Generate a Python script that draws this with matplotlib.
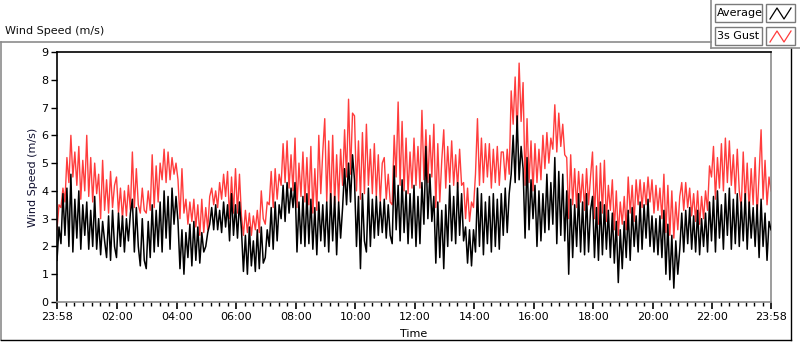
import matplotlib
matplotlib.use("Agg")
import matplotlib.pyplot as plt
import numpy as np
from matplotlib.patches import Rectangle
from matplotlib.lines import Line2D

# ---------------- data (one sample every 4 minutes, from 23:58) ----------------
sample_step_min = 4
average = [
    1.5, 2.7, 2.1, 3.9, 2.4, 4.1, 2.0, 4.6, 1.8, 3.7, 2.3, 4.0, 1.9, 3.5, 2.4,
    3.6, 1.9, 3.3, 2.0, 3.8, 1.9, 3.0, 1.7, 2.9, 2.2, 1.6, 3.1, 1.5, 3.3, 2.0,
    1.6, 3.2, 2.0, 3.1, 1.8, 3.0, 2.2, 3.2, 3.7, 1.8, 3.4, 2.0, 1.3, 3.0, 1.5,
    1.2, 2.9, 1.6, 3.5, 1.8, 3.3, 2.0, 3.6, 1.8, 4.0, 2.3, 3.8, 1.9, 4.1, 2.8,
    3.8, 2.9, 1.2, 2.6, 1.0, 2.5, 1.6, 2.8, 1.3, 2.9, 1.5, 2.7, 1.4, 2.5, 1.8,
    2.0, 2.5, 2.8, 3.4, 2.6, 3.5, 2.6, 3.3, 2.5, 3.6, 2.7, 3.5, 2.2, 3.9, 2.4,
    3.5, 2.3, 3.6, 2.6, 1.1, 2.4, 1.0, 2.7, 1.3, 2.2, 1.1, 2.6, 1.2, 2.7, 1.4,
    1.6, 2.6, 2.0, 3.4, 1.9, 3.6, 2.2, 3.5, 3.0, 4.2, 2.9, 4.3, 3.2, 4.1, 3.4,
    4.3, 1.8, 3.6, 2.1, 3.8, 2.0, 3.9, 2.1, 3.7, 1.9, 3.4, 1.7, 3.6, 2.2, 3.5,
    2.0, 3.6, 1.8, 3.9, 2.2, 3.8, 1.7, 3.6, 2.3, 3.4, 4.8, 3.5, 5.0, 3.6, 5.3,
    4.4, 2.0, 3.8, 1.2, 3.9, 2.2, 1.8, 4.1, 2.0, 3.7, 2.3, 3.8, 2.4, 3.6, 2.5,
    3.7, 2.3, 3.5, 2.4, 2.1, 4.9, 2.6, 4.2, 2.2, 4.4, 2.5, 4.0, 2.1, 3.9, 2.3,
    4.2, 2.0, 3.8, 2.1, 4.3, 2.8, 5.6, 3.0, 4.6, 2.9, 3.8, 1.4, 3.6, 1.6, 3.3,
    1.2, 3.5, 2.0, 4.2, 2.2, 3.8, 2.1, 4.3, 2.4, 3.9, 2.2, 2.7, 1.4, 2.6, 1.3,
    2.6, 1.8, 4.1, 2.0, 3.9, 1.7, 3.6, 2.1, 3.8, 1.8, 3.9, 2.0, 3.7, 1.9, 3.9,
    2.4, 4.1, 2.5, 3.9, 4.6, 6.0, 4.3, 6.7, 4.4, 5.6, 4.8, 2.3, 5.2, 2.6, 4.4,
    3.0, 4.2, 2.0, 4.0, 2.2, 3.9, 2.5, 4.6, 2.6, 4.3, 2.8, 5.2, 2.1, 4.7, 2.4,
    4.6, 2.2, 4.0, 1.0, 3.7, 1.6, 3.5, 2.0, 3.9, 1.8, 3.6, 1.7, 3.9, 1.8, 3.3,
    3.8, 1.6, 3.4, 1.5, 3.6, 1.7, 3.5, 1.9, 3.3, 1.6, 3.2, 1.4, 2.9, 0.7, 2.6,
    1.2, 2.9, 1.6, 3.3, 1.5, 3.4, 2.0, 3.1, 1.8, 3.6, 1.9, 3.5, 2.3, 3.7, 2.0,
    3.1, 1.8, 3.0, 1.7, 3.1, 1.6, 3.3, 1.0, 2.8, 0.8, 2.4, 0.5, 2.2, 1.0, 1.9,
    3.2, 1.8, 3.3, 2.1, 3.4, 1.9, 3.1, 1.8, 3.3, 1.7, 3.0, 2.0, 3.2, 1.8, 3.6,
    2.2, 3.8, 1.8, 4.0, 2.3, 3.5, 1.9, 3.9, 2.4, 4.1, 1.9, 3.7, 2.1, 3.9, 2.0,
    3.6, 2.2, 3.9, 1.9, 3.6, 2.3, 3.4, 2.0, 3.5, 1.6, 3.7, 2.0, 3.2, 1.5, 2.9,
    2.6,
]
gust_3s = [
    2.6, 3.5, 3.4, 4.1, 3.6, 5.2, 4.3, 6.0, 4.5, 5.4, 4.2, 5.6, 3.7, 5.1, 4.0,
    6.0, 3.8, 5.2, 3.6, 5.0, 3.9, 4.6, 3.0, 5.1, 3.3, 4.4, 3.2, 4.7, 3.4, 4.2,
    4.5, 3.2, 4.1, 3.0, 4.0, 3.1, 4.2, 3.3, 5.4, 3.4, 4.8, 3.5, 3.2, 4.1, 3.3,
    3.2, 4.0, 3.3, 5.3, 3.4, 4.9, 3.6, 5.0, 4.4, 5.5, 4.3, 5.4, 4.4, 5.2, 4.6,
    5.0, 4.4, 3.0, 4.8, 3.2, 3.7, 2.8, 3.6, 2.9, 3.7, 2.7, 3.5, 2.4, 3.7, 2.5,
    3.4, 2.6, 3.8, 4.1, 3.5, 4.0, 3.4, 4.3, 3.7, 4.6, 3.8, 4.7, 3.0, 4.5, 3.2,
    4.8, 3.2, 4.6, 3.1, 2.4, 3.3, 2.5, 3.2, 2.4, 3.1, 2.6, 3.3, 2.5, 4.0, 3.0,
    2.8, 3.6, 3.5, 4.7, 3.4, 4.8, 3.7, 4.6, 4.2, 5.7, 4.3, 5.8, 4.1, 5.3, 4.0,
    5.9, 3.4, 5.0, 3.8, 5.4, 3.6, 5.2, 3.5, 5.6, 3.2, 4.8, 3.3, 6.0, 3.9, 5.4,
    6.6, 3.6, 5.8, 3.4, 6.0, 3.5, 5.3, 3.6, 5.5, 4.2, 6.2, 4.5, 7.3, 4.6, 6.8,
    6.7, 4.0, 5.8, 3.7, 6.1, 3.9, 6.4, 4.2, 5.5, 3.9, 5.7, 3.8, 5.3, 3.6, 5.0,
    5.2, 3.7, 4.6, 3.6, 3.5, 6.0, 4.5, 7.2, 4.2, 6.5, 4.0, 5.9, 3.9, 5.4, 4.1,
    5.9, 4.2, 5.6, 4.1, 6.9, 4.4, 6.2, 4.3, 6.0, 4.5, 6.4, 3.4, 5.7, 3.6, 5.1,
    6.2, 4.1, 5.6, 4.3, 5.8, 4.2, 5.3, 4.1, 5.5, 4.2, 4.3, 3.0, 4.1, 2.9, 3.6,
    3.4, 4.6, 6.6, 4.2, 5.9, 4.3, 5.7, 4.5, 5.7, 4.1, 5.5, 4.3, 5.6, 4.2, 5.4,
    5.4, 4.4, 5.5, 4.6, 7.6, 6.4, 8.1, 6.0, 8.6, 6.5, 7.9, 4.2, 6.6, 4.3, 5.8,
    4.0, 5.7, 4.3, 5.5, 4.4, 6.0, 4.8, 6.1, 5.0, 5.9, 5.5, 7.1, 5.4, 6.8, 5.6,
    6.4, 5.3, 5.2, 3.0, 5.3, 3.5, 4.8, 3.4, 4.7, 3.6, 4.6, 3.3, 4.8, 3.5, 4.5,
    5.4, 3.0, 4.9, 2.8, 5.0, 3.2, 5.1, 2.9, 4.2, 3.3, 4.4, 2.6, 4.0, 2.4, 3.6,
    2.8, 3.8, 2.6, 4.5, 3.2, 4.2, 2.9, 4.4, 3.5, 4.4, 3.4, 4.3, 3.5, 4.5, 3.6,
    4.4, 3.2, 4.2, 3.3, 4.1, 3.0, 4.6, 2.5, 4.2, 2.4, 4.0, 2.3, 3.6, 2.6, 3.8,
    4.3, 3.3, 4.3, 3.4, 4.1, 3.1, 3.9, 2.9, 4.0, 2.8, 3.8, 3.0, 4.0, 3.3, 4.9,
    4.5, 5.6, 3.7, 5.2, 4.1, 5.7, 4.0, 5.9, 4.3, 5.8, 4.2, 5.3, 3.9, 5.5, 4.0,
    3.4, 5.4, 3.6, 5.0, 3.3, 4.8, 3.5, 5.2, 3.1, 4.6, 6.2, 3.7, 5.1, 3.5, 4.5,
    4.0,
]
series_names = ["Average", "3s Gust"]
series_colors = ["#000000", "#ff3c3c"]
x_tick_labels = ["23:58", "02:00", "04:00", "06:00", "08:00", "10:00",
                 "12:00", "14:00", "16:00", "18:00", "20:00", "22:00", "23:58"]
y_ticks = [0, 1, 2, 3, 4, 5, 6, 7, 8, 9]

# ---------------- figure ----------------
W, H = 800, 342
fig = plt.figure(figsize=(W / 100, H / 100), dpi=100)
plt.rcParams['font.family'] = ['DejaVu Sans']
FS = 8

def fx(px):
    return px / W

def fy(py):
    return 1 - py / H

# outer grey frame
frame_col = "#8c8c8c"
fig.add_artist(Line2D([fx(1), fx(711)], [fy(42), fy(42)], color=frame_col, lw=1.2, transform=fig.transFigure))
fig.add_artist(Line2D([fx(1), fx(1)], [fy(42), fy(340)], color=frame_col, lw=1.2, transform=fig.transFigure))
fig.add_artist(Line2D([fx(1), fx(791)], [fy(340), fy(340)], color="#000000", lw=1.0, transform=fig.transFigure))
fig.add_artist(Line2D([fx(791), fx(791)], [fy(48), fy(340)], color="#000000", lw=1.0, transform=fig.transFigure))
# legend area border
fig.add_artist(Line2D([fx(711), fx(711)], [fy(0), fy(48)], color=frame_col, lw=1.2, transform=fig.transFigure))
fig.add_artist(Line2D([fx(711), fx(800)], [fy(48), fy(48)], color=frame_col, lw=1.2, transform=fig.transFigure))

fig.text(fx(5), fy(31), "Wind Speed (m/s)", fontsize=FS, ha="left", va="center", color="#101010")

# legend boxes
leg_rows = [(4, 22), (27, 45)]
for (top, bot), name, col in zip(leg_rows, series_names, series_colors):
    fig.add_artist(Rectangle((fx(715), fy(bot)), fx(762 - 715), fy(top) - fy(bot),
                             transform=fig.transFigure, facecolor="white", edgecolor="#7a7a7a", lw=1.0))
    fig.text(fx(717), fy((top + bot) / 2), name, fontsize=FS, ha="left", va="center", color="#000000")
    fig.add_artist(Rectangle((fx(766), fy(bot)), fx(795 - 766), fy(top) - fy(bot),
                             transform=fig.transFigure, facecolor="white", edgecolor="#7a7a7a", lw=1.0))
    zx = [770, 777, 784, 791]
    zy = [bot - 3, top + 4, bot - 3, top + 4]
    fig.add_artist(Line2D([fx(v) for v in zx], [fy(v) for v in zy], color=col, lw=0.9,
                          transform=fig.transFigure))

# ---------------- axes ----------------
ax = fig.add_axes([fx(57), fy(302), fx(771 - 57), fy(52) - fy(302)])
n = len(average)
t = np.arange(n) * sample_step_min

ax.plot(t, gust_3s, color=series_colors[1], lw=1.0, zorder=2)
ax.plot(t, average, color=series_colors[0], lw=1.1, zorder=3)

total_min = (n - 1) * sample_step_min
def label_to_min(lbl, i):
    if i == 0:
        return 0
    if i == len(x_tick_labels) - 1:
        return total_min
    h, m = map(int, lbl.split(":"))
    return (h * 60 + m) + 2  # offset from 23:58 start

major_pos = [label_to_min(l, i) for i, l in enumerate(x_tick_labels)]
ax.set_xlim(0, total_min)
ax.set_ylim(0, 9)
ax.set_xticks(major_pos)
ax.set_xticklabels(x_tick_labels, fontsize=FS)
minor = []
for a, b in zip(major_pos[:-1], major_pos[1:]):
    minor.extend(list(np.linspace(a, b, 8)[1:-1]))
ax.set_xticks(minor, minor=True)
ax.set_yticks(y_ticks)
ax.set_yticklabels([str(v) for v in y_ticks], fontsize=FS)
ax.tick_params(axis="x", which="major", length=5, width=1.2, direction="out", pad=2, color="black")
ax.tick_params(axis="x", which="minor", length=3, width=1.0, direction="out", color="black")
ax.tick_params(axis="y", which="major", length=4, width=1.0, direction="out", pad=2, color="black")

ax.spines["top"].set_color("black")
ax.spines["left"].set_color("black")
ax.spines["bottom"].set_color("#8c8c8c")
ax.spines["right"].set_color("#8c8c8c")
for s in ax.spines.values():
    s.set_linewidth(1.2)

ax.set_xlabel("Time", fontsize=FS, labelpad=5)
ax.set_ylabel("Wind Speed (m/s)", fontsize=FS, color="#101030", labelpad=2.5)

fig.savefig("out.png", dpi=100)
